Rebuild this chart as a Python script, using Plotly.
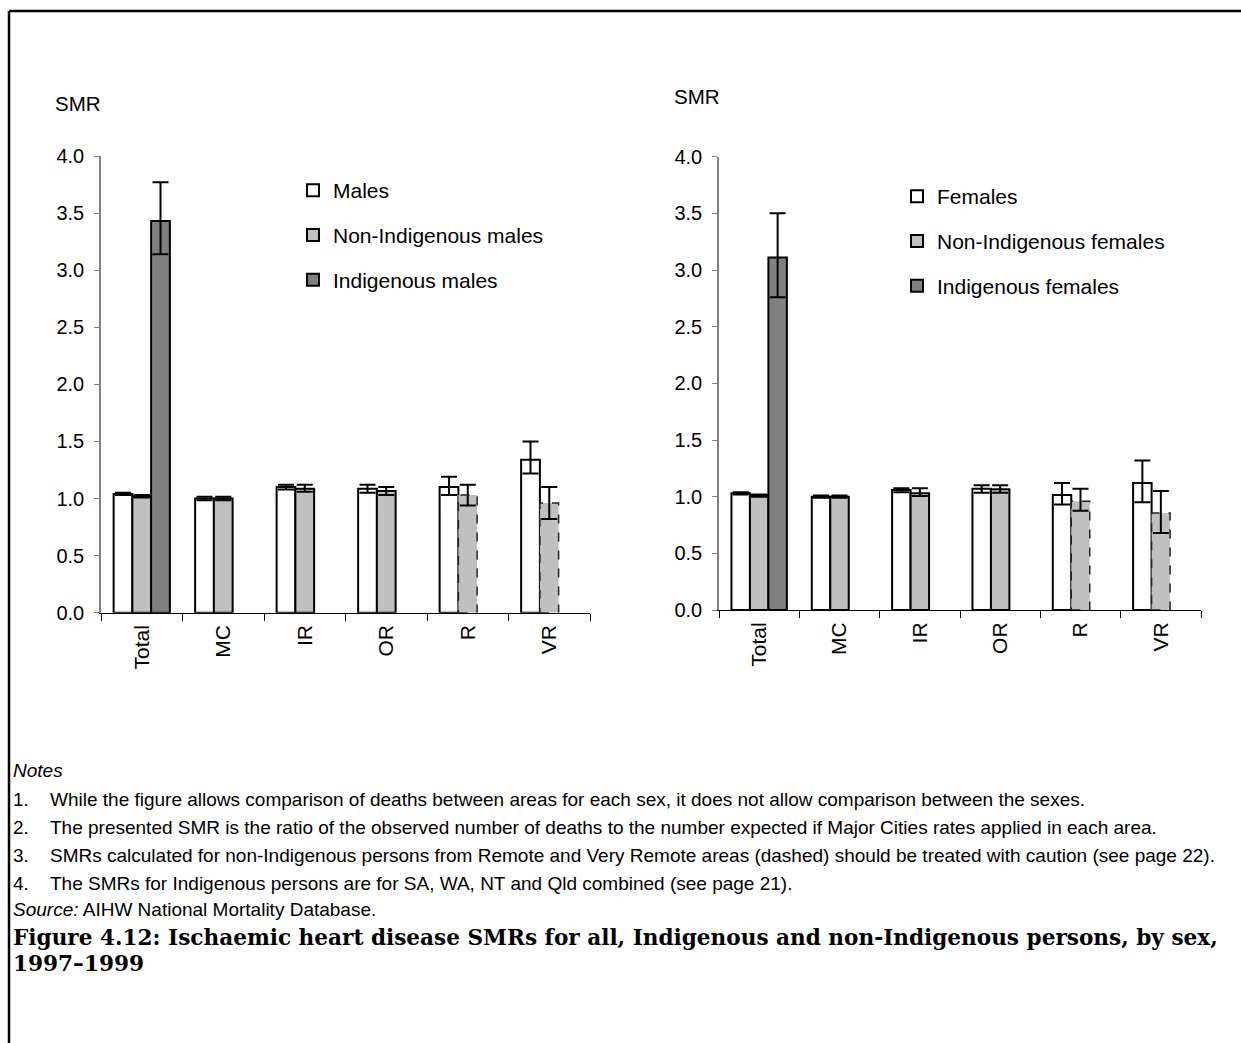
import plotly.graph_objects as go

# ---------------- data ----------------
categories = ["Total", "MC", "IR", "OR", "R", "VR"]

males_all = [1.04, 1.00, 1.10, 1.085, 1.10, 1.34]
males_all_lo = [1.03, 0.985, 1.08, 1.05, 1.03, 1.22]
males_all_hi = [1.05, 1.015, 1.12, 1.12, 1.19, 1.50]

males_non = [1.02, 1.00, 1.085, 1.065, 1.03, 0.96]
males_non_lo = [1.01, 0.985, 1.06, 1.03, 0.94, 0.82]
males_non_hi = [1.03, 1.015, 1.12, 1.10, 1.12, 1.10]

males_ind = [3.43, None, None, None, None, None]
males_ind_lo = [3.14, None, None, None, None, None]
males_ind_hi = [3.77, None, None, None, None, None]

fem_all = [1.03, 1.00, 1.06, 1.07, 1.015, 1.12]
fem_all_lo = [1.02, 0.99, 1.04, 1.035, 0.93, 0.95]
fem_all_hi = [1.04, 1.01, 1.075, 1.10, 1.12, 1.32]

fem_non = [1.01, 1.00, 1.03, 1.065, 0.96, 0.855]
fem_non_lo = [1.00, 0.99, 1.005, 1.035, 0.875, 0.68]
fem_non_hi = [1.02, 1.01, 1.075, 1.10, 1.07, 1.05]

fem_ind = [3.11, None, None, None, None, None]
fem_ind_lo = [2.76, None, None, None, None, None]
fem_ind_hi = [3.50, None, None, None, None, None]

# non-Indigenous bars drawn dashed (treat with caution)
dashed_cats = ["R", "VR"]

y_ticks = [0, 0.5, 1.0, 1.5, 2.0, 2.5, 3.0, 3.5, 4.0]

notes = [
    "While the figure allows comparison of deaths between areas for each sex, it does not allow comparison between the sexes.",
    "The presented SMR is the ratio of the observed number of deaths to the number expected if Major Cities rates applied in each area.",
    "SMRs calculated for non-Indigenous persons from Remote and Very Remote areas (dashed) should be treated with caution (see page 22).",
    "The SMRs for Indigenous persons are for SA, WA, NT and Qld combined (see page 21).",
]
source_text = "AIHW National Mortality Database."
title_lines = ["Figure 4.12: Ischaemic heart disease SMRs for all, Indigenous and non-Indigenous persons, by sex,",
               "1997\u20131999"]

# ---------------- style ----------------
W, H = 1241, 1043
FONT = "Liberation Sans, Arial, sans-serif"
WHITE, GREY, DARK = "#FFFFFF", "#C0C0C0", "#808080"
BARGAP = 0.31
NTR = 3
BW = (1 - BARGAP) / NTR


def px(x):
    return x / W


def py(y):
    return 1 - y / H


def err(vals, lo, hi):
    plus = [None if v is None else h - v for v, h in zip(vals, hi)]
    minus = [None if v is None else v - l for v, l in zip(vals, lo)]
    return dict(type="data", symmetric=False, array=plus, arrayminus=minus,
                color="black", thickness=2, width=8, visible=True)


fig = go.Figure()

panels = [
    ("x", "y", "legend", ["Males", "Non-Indigenous males", "Indigenous males"],
     (males_all, males_all_lo, males_all_hi),
     (males_non, males_non_lo, males_non_hi),
     (males_ind, males_ind_lo, males_ind_hi)),
    ("x2", "y2", "legend2", ["Females", "Non-Indigenous females", "Indigenous females"],
     (fem_all, fem_all_lo, fem_all_hi),
     (fem_non, fem_non_lo, fem_non_hi),
     (fem_ind, fem_ind_lo, fem_ind_hi)),
]

shapes = []
for xa, ya, lg, names, s_all, s_non, s_ind in panels:
    colors = [WHITE, GREY, DARK]
    for k, (ser, col, nm) in enumerate(zip([s_all, s_non, s_ind], colors, names)):
        vals, lo, hi = ser
        lw = [2] * len(categories)
        if k == 1:
            lw = [0 if c in dashed_cats else 2 for c in categories]
        fig.add_trace(go.Bar(
            x=categories, y=vals, name=nm, xaxis=xa, yaxis=ya, legend=lg,
            legendgroup=f"{lg}_{k}",
            marker=dict(color=col, line=dict(color="black", width=lw)),
            error_y=err(vals, lo, hi),
        ))
    # dashed outlines for the caution bars (middle slot of each group)
    vals_non = s_non[0]
    for i, c in enumerate(categories):
        if c in dashed_cats:
            shapes.append(dict(type="rect", xref=xa, yref=ya,
                               x0=i - BW / 2, x1=i + BW / 2, y0=0, y1=vals_non[i],
                               line=dict(color="#222222", width=1.5, dash="dash"),
                               fillcolor="rgba(0,0,0,0)", layer="above"))

# frame lines (top and left)
shapes.append(dict(type="line", xref="paper", yref="paper", x0=px(9), x1=1.0,
                   y0=py(11), y1=py(11), line=dict(color="black", width=2.5)))
shapes.append(dict(type="line", xref="paper", yref="paper", x0=px(9), x1=px(9),
                   y0=py(11), y1=0, line=dict(color="black", width=2.5)))

xaxis_common = dict(type="category", showline=True, linecolor="black", linewidth=1,
                    ticks="outside", tickson="boundaries", ticklen=7, tickcolor="black",
                    tickangle=-90, tickfont=dict(family=FONT, size=21, color="black"),
                    ticklabelstandoff=3,
                    showgrid=False, zeroline=False, fixedrange=True, automargin=False)
yaxis_common = dict(range=[0, 4.0], tickvals=y_ticks, tickformat=".1f",
                    showline=True, linecolor="#808080", linewidth=1.5,
                    ticks="outside", ticklen=5, tickcolor="#808080",
                    tickfont=dict(family=FONT, size=20, color="black"),
                    ticklabelstandoff=6, automargin=False,
                    showgrid=False, zeroline=False, fixedrange=True)

annotations = [
    dict(text="SMR", x=px(53), y=py(103), xanchor="left", yanchor="middle"),
    dict(text="SMR", x=px(672), y=py(97), xanchor="left", yanchor="middle"),
]
for a in annotations:
    a.update(xref="paper", yref="paper", showarrow=False,
             font=dict(family=FONT, size=20.5, color="black"))

NOTE_FONT = dict(family=FONT, size=19, color="black")
small = []
small.append(dict(text="<i>Notes</i>", x=px(11), y=py(770)))
note_ys = [799, 827, 855, 883]
for n, (t, yy) in enumerate(zip(notes, note_ys), start=1):
    small.append(dict(text=f"{n}.", x=px(11), y=py(yy)))
    small.append(dict(text=t, x=px(48), y=py(yy)))
small.append(dict(text="<i>Source:</i> " + source_text, x=px(11), y=py(909)))
for a in small:
    a.update(xref="paper", yref="paper", showarrow=False, xanchor="left",
             yanchor="middle", font=NOTE_FONT)
annotations += small

TITLE_FONT = dict(family="DejaVu Serif, Liberation Serif, serif", size=21.6, color="black")
for t, yy in zip(title_lines, [937, 963]):
    annotations.append(dict(text=f"<b>{t}</b>", x=px(11), y=py(yy), xref="paper", yref="paper",
                            showarrow=False, xanchor="left", yanchor="middle", font=TITLE_FONT))

legend_common = dict(font=dict(family=FONT, size=21, color="black"),
                     bgcolor="rgba(0,0,0,0)", borderwidth=0, tracegroupgap=14.5,
                     itemwidth=30, xanchor="left", yanchor="top", traceorder="grouped",
                     itemclick=False, itemdoubleclick=False)

fig.update_layout(
    template="none",
    width=W, height=H, autosize=False,
    margin=dict(l=0, r=0, t=0, b=0, pad=0, autoexpand=False),
    paper_bgcolor="white", plot_bgcolor="white",
    barmode="group", bargap=BARGAP, bargroupgap=0,
    showlegend=True,
    xaxis=dict(domain=[px(101), px(590)], anchor="y", **xaxis_common),
    yaxis=dict(domain=[py(612.7), py(156)], anchor="x", **yaxis_common),
    xaxis2=dict(domain=[px(719), px(1201)], anchor="y2", **xaxis_common),
    yaxis2=dict(domain=[py(610), py(156.7)], anchor="x2", **yaxis_common),
    legend=dict(x=px(293), y=py(170), **legend_common),
    legend2=dict(x=px(897), y=py(176), **legend_common),
    shapes=shapes,
    annotations=annotations,
    font=dict(family=FONT, color="black"),
)

fig.write_html(
    "out.html",
    config={"displayModeBar": False, "responsive": False},
    post_script="document.body.style.margin='0';document.body.style.overflow='hidden';",
)
